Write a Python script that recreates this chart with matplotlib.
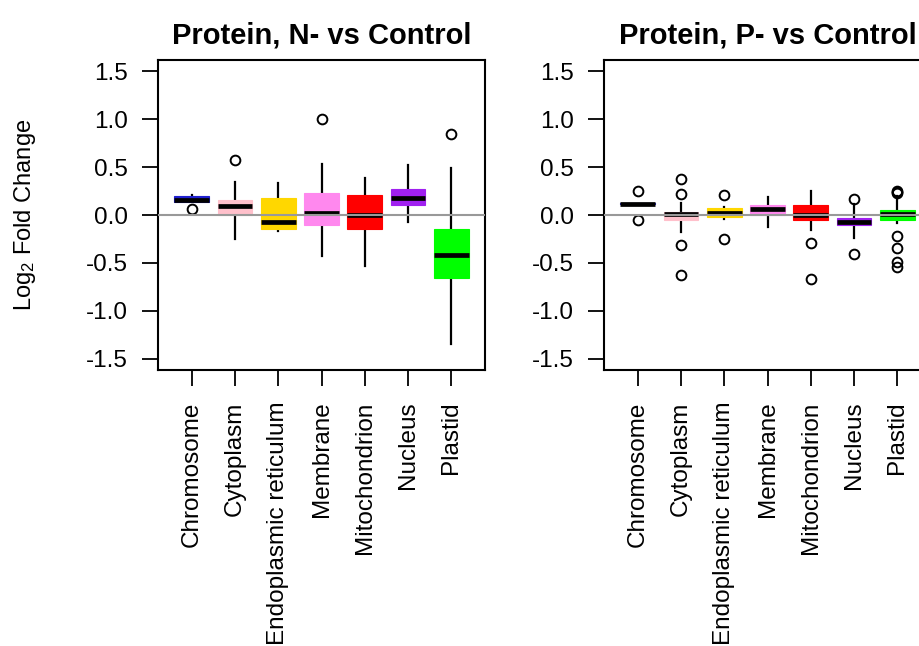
import matplotlib
matplotlib.use("Agg")
import matplotlib.pyplot as plt

plt.rcParams['font.family'] = ['Liberation Sans', 'DejaVu Sans']
plt.rcParams['mathtext.fontset'] = 'custom'
plt.rcParams['mathtext.rm'] = 'Liberation Sans'
plt.rcParams['mathtext.it'] = 'Liberation Sans'

categories = ["Chromosome", "Cytoplasm", "Endoplasmic reticulum", "Membrane",
              "Mitochondrion", "Nucleus", "Plastid"]
box_colors = ["#2020D0", "#FFC0CB", "#FFD700", "#FF88EE", "#FF0000", "#A020F0", "#00FF00"]

# Panel 1: Protein, N- vs Control
n_whislo = [0.14, -0.25, -0.167, -0.432, -0.53, -0.077, -1.345]
n_q1     = [0.14, 0.0, -0.143, -0.101, -0.15, 0.105, -0.655]
n_med    = [0.157, 0.094, -0.077, 0.021, 0.003, 0.178, -0.418]
n_q3     = [0.199, 0.157, 0.181, 0.226, 0.206, 0.272, -0.143]
n_whishi = [0.21, 0.341, 0.331, 0.533, 0.387, 0.519, 0.495]
n_fliers = [[0.066], [0.578], [], [1.0], [], [], [0.85]]

# Panel 2: Protein, P- vs Control
p_whislo = [0.11, -0.174, -0.045, -0.129, -0.157, -0.237, -0.087]
p_q1     = [0.11, -0.052, -0.024, 0.0, -0.052, -0.101, -0.049]
p_med    = [0.118, 0.014, 0.017, 0.066, 0.003, -0.07, 0.007]
p_q3     = [0.125, 0.035, 0.07, 0.105, 0.105, -0.028, 0.049]
p_whishi = [0.13, 0.129, 0.087, 0.192, 0.25, 0.111, 0.199]
p_fliers = [[0.25, -0.052], [0.373, 0.216, -0.314, -0.624], [0.209, -0.254], [],
            [-0.296, -0.672], [0.171, -0.411],
            [0.25, 0.24, 0.226, -0.22, -0.341, -0.495, -0.54]]

titles = ["Protein, N- vs Control", "Protein, P- vs Control"]
yticks = [-1.5, -1.0, -0.5, 0.0, 0.5, 1.0, 1.5]

W, H = 919, 646
fig = plt.figure(figsize=(W / 100, H / 100), dpi=100)

panels = [
    (158, (n_whislo, n_q1, n_med, n_q3, n_whishi, n_fliers)),
    (604, (p_whislo, p_q1, p_med, p_q3, p_whishi, p_fliers)),
]

for idx, (left_px, (wl, q1, med, q3, wh, fl)) in enumerate(panels):
    ax = fig.add_axes([left_px / W, (H - 370) / H, 327 / W, 310 / H])
    stats = []
    for i in range(len(categories)):
        stats.append(dict(med=med[i], q1=q1[i], q3=q3[i], whislo=wl[i],
                          whishi=wh[i], fliers=fl[i]))
    pos = list(range(1, len(categories) + 1))
    bp = ax.bxp(stats, positions=pos, widths=0.8, patch_artist=True, showcaps=False,
                boxprops=dict(linewidth=0.8),
                whiskerprops=dict(color="black", linewidth=1.6),
                medianprops=dict(color="black", linewidth=3.4, solid_capstyle="butt"),
                flierprops=dict(marker="o", markerfacecolor="none", markeredgecolor="black",
                                markersize=7, markeredgewidth=1.4))
    for patch, c in zip(bp["boxes"], box_colors):
        patch.set_facecolor(c)
        patch.set_edgecolor(c)
    for w in bp["whiskers"]:
        w.set_zorder(1)
    ax.axhline(0, color="#999999", linewidth=1.5, zorder=5)
    ax.set_xlim(0.22, 7.78)
    ax.set_ylim(-1.62, 1.62)
    ax.set_yticks(yticks)
    ax.set_yticklabels([f"{v:.1f}" for v in yticks])
    ax.set_xticks(pos)
    ax.set_xticklabels(categories, rotation=90)
    ax.tick_params(axis="both", direction="out", length=11.5, width=1.3, labelsize=17.5,
                   colors="black")
    ax.tick_params(axis="y", pad=10)
    ax.tick_params(axis="x", pad=11)
    for s in ax.spines.values():
        s.set_linewidth(1.5)
    ax.set_title(titles[idx], fontsize=21, fontweight="bold", pad=12)
    if idx == 0:
        ax.set_ylabel("Log$_2$ Fold Change", fontsize=17, labelpad=35)

fig.savefig("out.png", dpi=100)
